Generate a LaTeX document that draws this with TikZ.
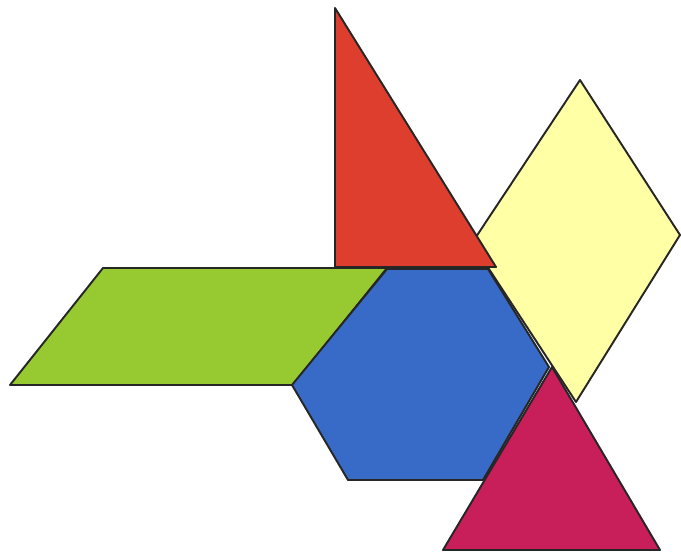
\documentclass[tikz,border=0pt]{standalone}
\usepackage{tikz}
\usepackage{xcolor}
\definecolor{blockred}{RGB}{222,62,46}
\definecolor{blockgreen}{RGB}{150,202,48}
\definecolor{blockblue}{RGB}{56,106,200}
\definecolor{blockyellow}{RGB}{255,255,165}
\definecolor{blockpink}{RGB}{200,30,90}

\begin{document}
\begin{tikzpicture}[x=0.02cm,y=-0.02cm,
    block/.style={draw=black!85,line width=1.1pt,line join=round}]
    \useasboundingbox (0,0) rectangle (681,553);
    % pattern blocks, back to front
    \draw[block,fill=blockgreen] (103,268) -- (387,268) -- (293,385) -- (10,385) -- cycle;
    \draw[block,fill=blockyellow] (580,80) -- (680,235) -- (576,402) -- (472,243) -- cycle;
    \draw[block,fill=blockblue] (387,269) -- (488,269) -- (549,367) -- (483,480) -- (348,480) -- (292,385) -- cycle;
    \draw[block,fill=blockred] (335,8) -- (496,267) -- (335,267) -- cycle;
    \draw[block,fill=blockpink] (552,367) -- (660,550) -- (443,550) -- cycle;
\end{tikzpicture}
\end{document}
